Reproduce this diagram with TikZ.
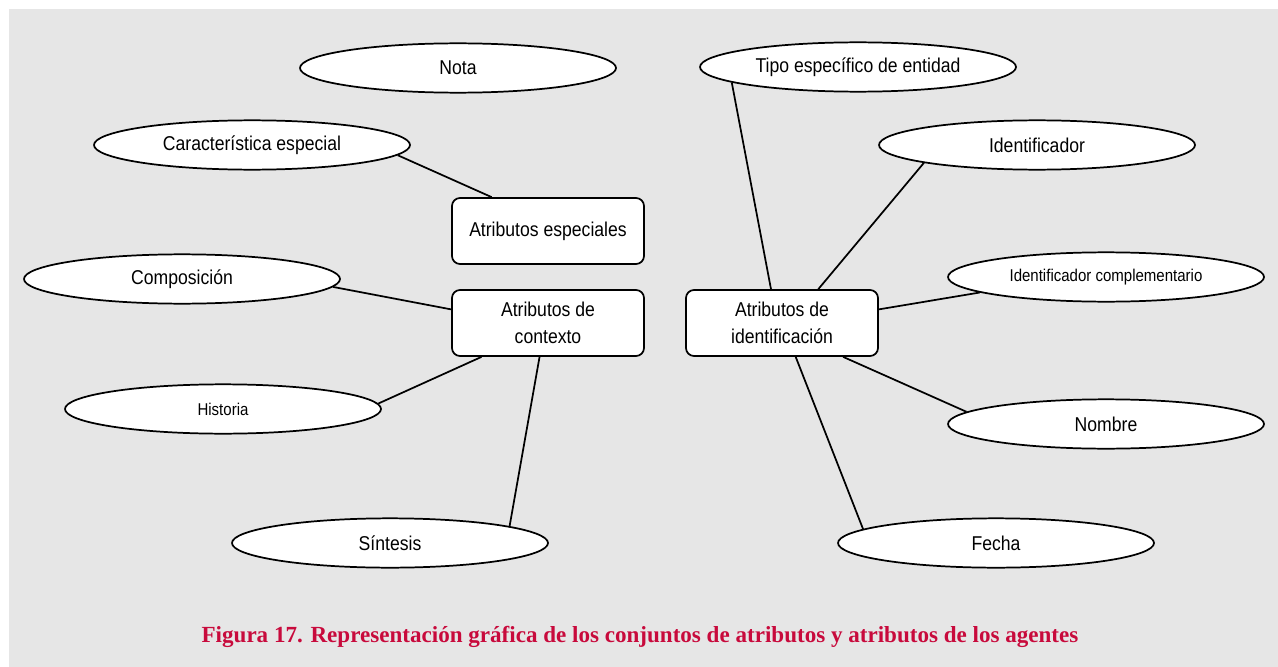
\documentclass[tikz,border=0pt]{standalone}
\usepackage{fontspec}
\setmainfont{Liberation Sans}[FakeStretch=0.88]
\newfontfamily\captionfont{Liberation Serif}
\usepackage{xcolor}
\usetikzlibrary{shapes.geometric}
\definecolor{PanelGray}{RGB}{230,230,230}
\definecolor{CaptionRed}{RGB}{200,10,60}

\begin{document}
\begin{tikzpicture}[
    x=0.75pt,y=-0.75pt,
    attr/.style={ellipse, draw=black, fill=white, line width=1.3pt, minimum width=237pt, minimum height=37pt, inner sep=0pt, font=\fontsize{15}{18}\selectfont},
    attrsmall/.style={attr, font=\fontsize{12.8}{15}\selectfont},
    group/.style={draw=black, fill=white, line width=1.3pt, rounded corners=6pt, minimum width=144pt, minimum height=49.5pt, inner sep=0pt, align=center, font=\fontsize{15}{20}\selectfont},
    link/.style={line width=1.3pt}
  ]
    \useasboundingbox (0,0) rectangle (1278,667);
    \fill[PanelGray] (9,9) rectangle (1278,667);
    % conjuntos de atributos
    \node[group] (especiales) at (548,231) {Atributos especiales};
    \node[group] (contexto) at (548,323) {Atributos de\\contexto};
    \node[group] (identif) at (782,323) {Atributos de\\identificaci\'on};
    % atributos
    \node[attr] (nota) at (458,68) {Nota};
    \node[attr] (caract) at (252,145) {Caracter\'istica especial};
    \node[attr] (compos) at (182,279) {Composici\'on};
    \node[attrsmall] (historia) at (223,409) {Historia};
    \node[attr] (sintesis) at (390,543) {S\'intesis};
    \node[attr] (tipo) at (858,67) {Tipo espec\'ifico de entidad};
    \node[attr] (identificador) at (1037,145) {Identificador};
    \node[attrsmall] (complem) at (1106,277) {Identificador complementario};
    \node[attr] (nombre) at (1106,424) {Nombre};
    \node[attr] (fecha) at (996,543) {Fecha};
    % conexiones
    \draw[link] (caract.-4) -- (especiales.149);
    \draw[link] (compos.-3) -- (contexto.172);
    \draw[link] (historia.2) -- (contexto.207);
    \draw[link] (sintesis.8.5) -- (contexto.-104);
    \draw[link] (tipo.187) -- (identif.108);
    \draw[link] (identificador.189) -- (identif.43);
    \draw[link] (complem.187) -- (identif.8);
    \draw[link] (nombre.175) -- (identif.-29);
    \draw[link] (fecha.174) -- (identif.-68);
    \node[font=\captionfont\bfseries\fontsize{17.3}{20}\selectfont, text=CaptionRed] (caption) at (640,637) {Figura 17. Representaci\'on gr\'afica de los conjuntos de atributos y atributos de los agentes};
\end{tikzpicture}
\end{document}
